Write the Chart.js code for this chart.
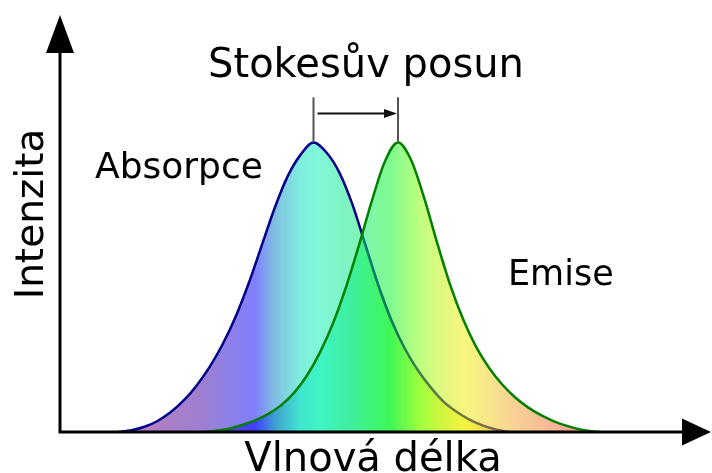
<!DOCTYPE html>
<html>
<head>
<meta charset="utf-8">
<script src="https://cdn.jsdelivr.net/npm/chart.js@4.4.0/dist/chart.umd.min.js"></script>
<style>
  html, body { margin: 0; padding: 0; background: #fff; }
  #wrap { width: 712px; height: 473px; }
</style>
</head>
<body>
<div id="wrap"><canvas id="stokes" width="712" height="473"></canvas></div>
<script>
// wavelength (arbitrary units) and normalised intensity
const absorptionX = [9, 11, 13, 15, 17, 19, 21, 23, 25, 27, 29, 31, 33, 35, 37, 39, 41, 43, 45, 47, 49, 51, 53, 55, 57, 59, 61, 63, 65, 67, 69];
const absorptionY = [0, 0.006, 0.018, 0.038, 0.068, 0.108, 0.160, 0.224, 0.302, 0.397, 0.512, 0.642, 0.772, 0.882, 0.957, 1.0,
  0.965, 0.895, 0.785, 0.645, 0.505, 0.385, 0.29, 0.215, 0.155, 0.105, 0.07, 0.043, 0.023, 0.009, 0];

const emissionX = [22, 24, 26, 28, 30, 32, 34, 36, 38, 40, 42, 44, 46, 48, 50, 52, 54, 56, 58, 60, 62, 64, 66, 68, 70, 72, 74, 76, 78, 80, 82, 83];
const emissionY = [0, 0.004, 0.011, 0.024, 0.040, 0.062, 0.092, 0.135, 0.195, 0.275, 0.375, 0.50, 0.645, 0.80, 0.935, 1.0,
  0.94, 0.81, 0.655, 0.51, 0.39, 0.295, 0.222, 0.165, 0.12, 0.085, 0.058, 0.037, 0.021, 0.009, 0.002, 0];

const xRange = [0, 100];
const yRange = [0, 1.44];
const shiftMarkTop = 1.156;
const shiftArrowY = 1.10;

const labels = {
  title: 'Stokesův posun',
  absorption: 'Absorpce',
  emission: 'Emise',
  xAxis: 'Vlnová délka',
  yAxis: 'Intenzita'
};

// spectrum colour stops, in wavelength units
const spectrum = [
  [12.3, '106,0,128'],
  [21.5, '64,0,160'],
  [30.0, '0,0,255'],
  [33.1, '0,128,192'],
  [36.9, '0,221,192'],
  [40.0, '0,240,176'],
  [44.6, '0,232,128'],
  [50.8, '0,245,30'],
  [55.4, '128,255,0'],
  [59.2, '200,240,0'],
  [62.3, '240,240,0'],
  [69.2, '240,170,40'],
  [76.9, '240,96,48'],
  [83.1, '240,0,0']
];

function toPoints(xs, ys) {
  return xs.map((x, i) => ({ x: x, y: ys[i] }));
}

function spectrumFill(context) {
  const chart = context.chart;
  const area = chart.chartArea;
  if (!area || !chart.scales.x) return 'rgba(0,0,0,0)';
  const sx = chart.scales.x;
  const x0 = sx.getPixelForValue(xRange[0]);
  const x1 = sx.getPixelForValue(xRange[1]);
  const g = chart.ctx.createLinearGradient(x0, 0, x1, 0);
  spectrum.forEach(([v, c]) => {
    const t = (sx.getPixelForValue(v) - x0) / (x1 - x0);
    g.addColorStop(Math.min(1, Math.max(0, t)), `rgba(${c},0.5)`);
  });
  return g;
}

function peakOf(xs, ys) {
  let k = 0;
  ys.forEach((y, i) => { if (y > ys[k]) k = i; });
  return { x: xs[k], y: ys[k] };
}

function arrowHead(ctx, tipX, tipY, dx, dy, len, half) {
  // dx,dy = unit direction of the arrow
  const bx = tipX - dx * len, by = tipY - dy * len;
  ctx.beginPath();
  ctx.moveTo(tipX, tipY);
  ctx.lineTo(bx - dy * half, by + dx * half);
  ctx.lineTo(bx + dy * half, by - dx * half);
  ctx.closePath();
  ctx.fill();
}

const decor = {
  id: 'decor',
  afterDraw(chart) {
    const ctx = chart.ctx;
    const sx = chart.scales.x, sy = chart.scales.y;
    const left = sx.getPixelForValue(xRange[0]);
    const right = sx.getPixelForValue(xRange[1]);
    const base = sy.getPixelForValue(0);
    const top = sy.getPixelForValue(yRange[1]);

    ctx.save();
    // axes with arrows
    ctx.strokeStyle = '#000';
    ctx.fillStyle = '#000';
    ctx.lineWidth = 3;
    ctx.lineCap = 'butt';
    ctx.beginPath();
    ctx.moveTo(left, top + 30);
    ctx.lineTo(left, base);
    ctx.lineTo(right - 22, base);
    ctx.stroke();
    arrowHead(ctx, left, top, 0, -1, 38, 14);
    arrowHead(ctx, right + 1, base, 1, 0, 29, 13.5);

    // Stokes shift markers
    const pa = peakOf(absorptionX, absorptionY);
    const pe = peakOf(emissionX, emissionY);
    const ax = sx.getPixelForValue(pa.x), ex = sx.getPixelForValue(pe.x);
    const mTop = sy.getPixelForValue(shiftMarkTop);
    ctx.strokeStyle = '#555';
    ctx.lineWidth = 2;
    ctx.beginPath();
    ctx.moveTo(ax, mTop); ctx.lineTo(ax, sy.getPixelForValue(pa.y) - 1);
    ctx.moveTo(ex, mTop); ctx.lineTo(ex, sy.getPixelForValue(pe.y) - 1);
    ctx.stroke();
    const ay = sy.getPixelForValue(shiftArrowY);
    ctx.strokeStyle = '#111';
    ctx.fillStyle = '#111';
    ctx.lineWidth = 2;
    ctx.beginPath();
    ctx.moveTo(ax + 4, ay); ctx.lineTo(ex - 10, ay);
    ctx.stroke();
    arrowHead(ctx, ex - 1, ay, 1, 0, 13, 4.5);

    // texts
    ctx.fillStyle = '#000';
    ctx.textBaseline = 'alphabetic';
    ctx.font = '40px "DejaVu Sans"';
    ctx.textAlign = 'center';
    ctx.fillText(labels.title, 366, 77);
    ctx.fillText(labels.xAxis, 373, 471);
    ctx.textAlign = 'left';
    ctx.font = '36px "DejaVu Sans"';
    ctx.fillText(labels.absorption, 95, 178);
    ctx.font = '35px "DejaVu Sans"';
    ctx.fillText(labels.emission, 508, 285);
    ctx.translate(43, 214);
    ctx.rotate(-Math.PI / 2);
    ctx.textAlign = 'center';
    ctx.font = '39px "DejaVu Sans"';
    ctx.fillText(labels.yAxis, 0, 0);
    ctx.restore();
  }
};

const whiteBg = {
  id: 'whiteBg',
  beforeDraw(chart) {
    const ctx = chart.ctx;
    ctx.save();
    ctx.fillStyle = '#fff';
    ctx.fillRect(0, 0, chart.width, chart.height);
    ctx.restore();
  }
};

new Chart(document.getElementById('stokes'), {
  type: 'line',
  data: {
    datasets: [
      {
        label: labels.absorption,
        data: toPoints(absorptionX, absorptionY),
        borderColor: '#000088',
        borderWidth: 2.5,
        backgroundColor: spectrumFill,
        fill: 'origin',
        cubicInterpolationMode: 'monotone',
        pointRadius: 0,
        order: 2
      },
      {
        label: labels.emission,
        data: toPoints(emissionX, emissionY),
        borderColor: '#008000',
        borderWidth: 2.5,
        backgroundColor: spectrumFill,
        fill: 'origin',
        cubicInterpolationMode: 'monotone',
        pointRadius: 0,
        order: 1
      }
    ]
  },
  options: {
    responsive: false,
    animation: false,
    layout: { padding: { left: 60, right: 2, top: 15, bottom: 41 } },
    scales: {
      x: { type: 'linear', min: xRange[0], max: xRange[1], display: false },
      y: { min: yRange[0], max: yRange[1], display: false }
    },
    plugins: {
      legend: { display: false },
      tooltip: { enabled: false }
    }
  },
  plugins: [whiteBg, decor]
});
</script>
</body>
</html>
